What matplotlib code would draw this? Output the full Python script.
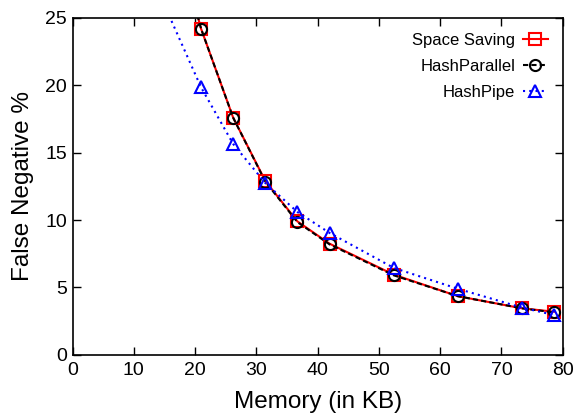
import matplotlib
matplotlib.use("Agg")
import matplotlib.pyplot as plt
import numpy as np

plt.rcParams['font.family'] = ['Liberation Sans', 'DejaVu Sans']

memory_kb = [15.73, 20.97, 26.21, 31.46, 36.70, 41.94, 52.43, 62.91, 73.40, 78.64]
space_saving = [33.0, 24.2, 17.6, 12.9, 9.9, 8.25, 5.95, 4.35, 3.45, 3.2]
hash_parallel = [33.0, 24.2, 17.6, 12.85, 9.85, 8.2, 5.9, 4.35, 3.45, 3.15]
hash_pipe = [25.2, 19.85, 15.65, 12.75, 10.6, 9.05, 6.45, 4.9, 3.5, 2.95]

x_ticks = [0, 10, 20, 30, 40, 50, 60, 70, 80]
y_ticks = [0, 5, 10, 15, 20, 25]
y_max = 25

fig = plt.figure(figsize=(5.76, 4.17), dpi=100)
ax = fig.add_axes([0.126, 0.149, 0.851, 0.808])

def visible(vals):
    return [i for i, v in enumerate(vals) if v <= y_max]

ax.plot(memory_kb, space_saving, color='#ff0000', lw=1.5, ls='-',
        marker='s', markersize=8, markerfacecolor='none', markeredgecolor='#ff0000',
        markeredgewidth=1.5, markevery=visible(space_saving), label='Space Saving')
ax.plot(memory_kb, hash_parallel, color='black', lw=1.5, ls=(0, (2.5, 1.5)),
        marker='o', markersize=8, markerfacecolor='none', markeredgecolor='black',
        markeredgewidth=1.5, markevery=visible(hash_parallel), label='HashParallel')
ax.plot(memory_kb, hash_pipe, color='#0000ff', lw=1.5, ls=(0, (1, 2)),
        marker='^', markersize=8.5, markerfacecolor='none', markeredgecolor='#0000ff',
        markeredgewidth=1.5, markevery=visible(hash_pipe), label='HashPipe')

ax.set_xlim(0, 80)
ax.set_ylim(0, y_max)
ax.set_xticks(x_ticks)
ax.set_yticks(y_ticks)
ax.tick_params(direction='in', top=True, right=True, length=6, width=1, labelsize=14)
ax.tick_params(axis='x', pad=5)
ax.tick_params(axis='y', pad=4)
for s in ax.spines.values():
    s.set_linewidth(1.2)

ax.set_xlabel('Memory (in KB)', fontsize=17.5, labelpad=9)
ax.set_ylabel('False Negative %', fontsize=17.5, labelpad=8)

leg = ax.legend(loc='upper right', bbox_to_anchor=(0.99, 0.985), frameon=False,
                markerfirst=False, fontsize=12, handlelength=1.5, handletextpad=0.45,
                labelspacing=0.66, borderaxespad=0.2)

fig.savefig('out.png', dpi=100)
